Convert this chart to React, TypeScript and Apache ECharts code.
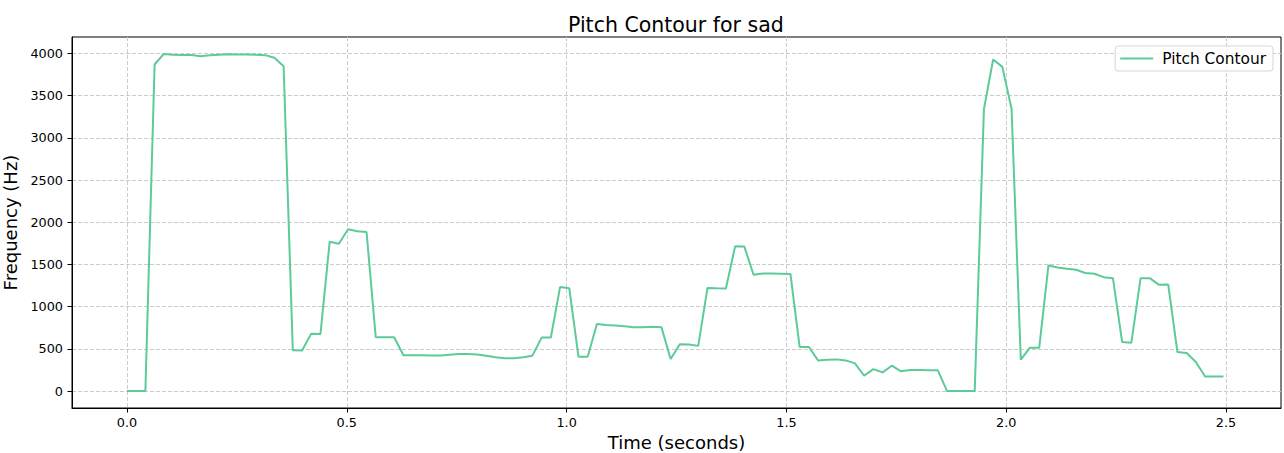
import React, { useEffect, useRef } from "react";
import * as echarts from "echarts";

// Pitch values (Hz) per analysis frame
const pitchHz: number[] = [
  0, 0, 0, 3869, 3995, 3985, 3982, 3982, 3968, 3980,
  3985, 3990, 3988, 3988, 3985, 3980, 3950, 3849, 483, 480,
  681, 677, 1770, 1745, 1917, 1893, 1885, 638, 638, 638,
  424, 424, 424, 422, 422, 432, 440, 440, 434, 420,
  400, 388, 390, 402, 420, 634, 634, 1232, 1220, 408,
  408, 796, 782, 776, 768, 758, 756, 762, 758, 380,
  556, 552, 536, 1222, 1218, 1216, 1715, 1712, 1378, 1392,
  1392, 1390, 1388, 523, 523, 364, 372, 376, 364, 329,
  182, 261, 222, 301, 234, 249, 249, 247, 246, 0,
  0, 0, 0, 3340, 3928, 3841, 3342, 372, 515, 515,
  1489, 1465, 1450, 1437, 1400, 1390, 1350, 1338, 582, 574,
  1338, 1338, 1259, 1262, 463, 451, 345, 174, 174, 174,
];

// Frame hop in seconds
const FRAME_STEP = 0.02096;
const timeSec: number[] = pitchHz.map((_, i) => i * FRAME_STEP);

const xTicks: number[] = [0, 0.5, 1.0, 1.5, 2.0, 2.5];
const yTicks: number[] = [0, 500, 1000, 1500, 2000, 2500, 3000, 3500, 4000];

const TITLE = "Pitch Contour for sad";
const SERIES_NAME = "Pitch Contour";
const X_NAME = "Time (seconds)";
const Y_NAME = "Frequency (Hz)";

const FONT = "DejaVu Sans";
const LINE_COLOR = "#5ccb98";
const GRID_COLOR = "#cccccc";

export default function App() {
  const ref = useRef<HTMLDivElement>(null);

  useEffect(() => {
    if (!ref.current) return;
    const chart = echarts.init(ref.current, null, { renderer: "svg" });
    const data = timeSec.map((t, i) => [t, pitchHz[i]]);

    chart.setOption({
      animation: false,
      backgroundColor: "#ffffff",
      textStyle: { fontFamily: FONT },
      title: {
        text: TITLE,
        left: 563,
        top: 9,
        textStyle: {
          fontFamily: FONT,
          fontSize: 20.5,
          fontWeight: "normal",
          color: "#000",
        },
      },
      legend: {
        right: 11,
        top: 46,
        padding: [5, 7, 5, 5],
        itemWidth: 33,
        itemHeight: 2,
        itemGap: 10,
        icon: "rect",
        borderColor: "#d6d6d6",
        borderWidth: 1,
        borderRadius: 3,
        backgroundColor: "rgba(255,255,255,0.8)",
        textStyle: { fontFamily: FONT, fontSize: 15.4, color: "#000", padding: [0, 0, 0, 4] },
        data: [{ name: SERIES_NAME, icon: "rect", itemStyle: { color: LINE_COLOR } }],
      },
      grid: {
        left: 72,
        right: 3,
        top: 37,
        bottom: 45,
        outerBoundsMode: "none",
        containLabel: false,
        show: true,
        borderColor: "#000",
        borderWidth: 1,
        backgroundColor: "transparent",
      },
      xAxis: {
        type: "value",
        min: -0.125,
        max: 2.625,
        name: X_NAME,
        nameLocation: "middle",
        nameGap: 25,
        nameTextStyle: { fontFamily: FONT, fontSize: 18, color: "#000" },
        axisLine: { show: true, onZero: false, lineStyle: { color: "#000", width: 1 } },
        axisTick: {
          show: true,
          length: 4.5,
          customValues: xTicks,
          lineStyle: { color: "#000", width: 1 },
        },
        axisLabel: {
          customValues: xTicks,
          margin: 8,
          fontFamily: FONT,
          fontSize: 12.8,
          color: "#000",
          formatter: (v: number) => v.toFixed(1),
        },
        splitLine: {
          show: true,
          lineStyle: { color: GRID_COLOR, type: [4, 2], width: 1 },
        },
      },
      yAxis: {
        type: "value",
        min: -200,
        max: 4195,
        name: Y_NAME,
        nameLocation: "middle",
        nameGap: 45,
        nameRotate: 90,
        nameTextStyle: { fontFamily: FONT, fontSize: 18, color: "#000" },
        axisLine: { show: true, onZero: false, lineStyle: { color: "#000", width: 1 } },
        axisTick: {
          show: true,
          length: 4.5,
          customValues: yTicks,
          lineStyle: { color: "#000", width: 1 },
        },
        axisLabel: {
          customValues: yTicks,
          margin: 9,
          fontFamily: FONT,
          fontSize: 12.8,
          color: "#000",
          formatter: (v: number) => String(v),
        },
        splitLine: {
          show: true,
          lineStyle: { color: GRID_COLOR, type: [4, 2], width: 1 },
        },
      },
      series: [
        {
          name: SERIES_NAME,
          type: "line",
          data,
          showSymbol: false,
          symbol: "none",
          lineStyle: { color: LINE_COLOR, width: 2 },
          itemStyle: { color: LINE_COLOR },
          z: 3,
        },
      ],
    });

    return () => chart.dispose();
  }, []);

  return (
    <div
      ref={ref}
      style={{ position: "fixed", left: 0, top: 0, width: 1284, height: 453 }}
    />
  );
}
